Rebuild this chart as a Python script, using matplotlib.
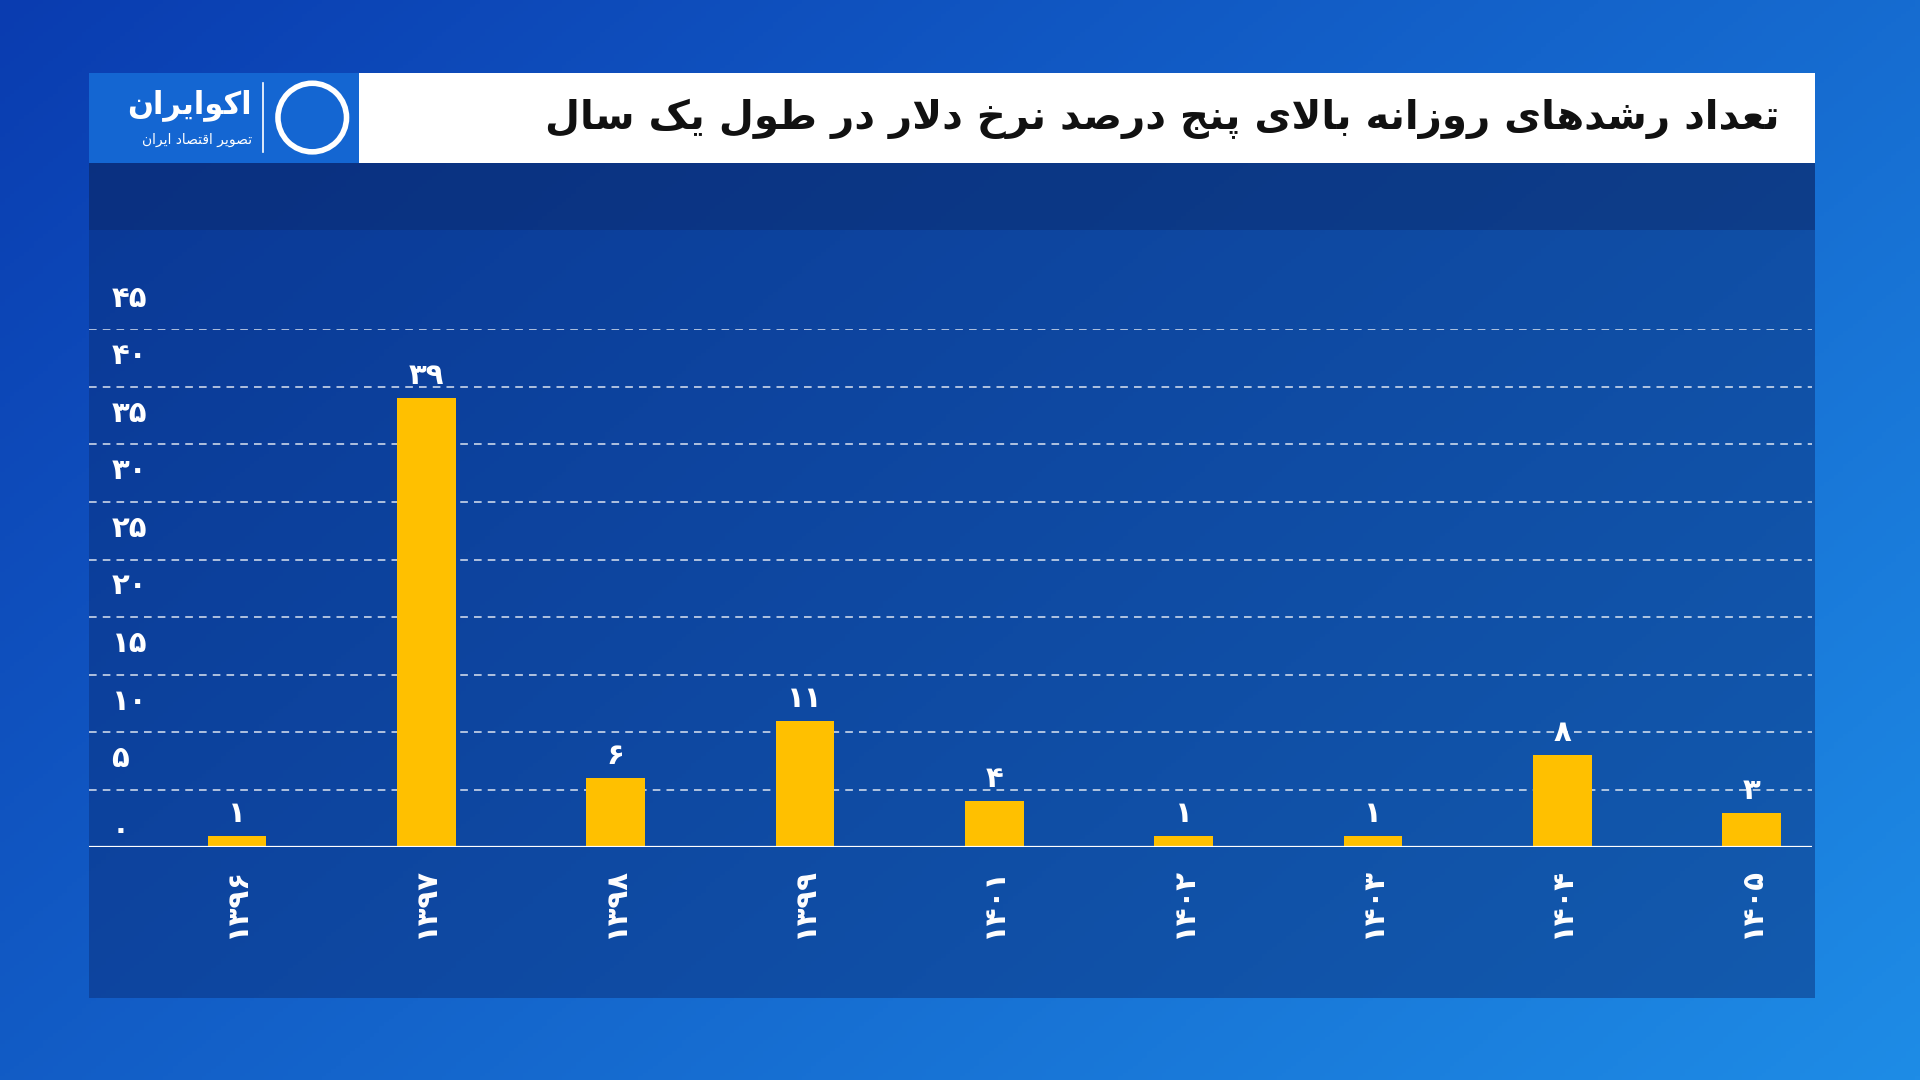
import numpy as np
import matplotlib
matplotlib.use("Agg")
import matplotlib.pyplot as plt
from matplotlib.patches import Rectangle

years = ["۱۳۹۶", "۱۳۹۷", "۱۳۹۸", "۱۳۹۹", "۱۴۰۱", "۱۴۰۲", "۱۴۰۳", "۱۴۰۴", "۱۴۰۵"]
counts = [1, 39, 6, 11, 4, 1, 1, 8, 3]
yticks = [0, 5, 10, 15, 20, 25, 30, 35, 40, 45]
title = "تعداد رشدهای روزانه بالای پنج درصد نرخ دلار در طول یک سال"
logo1 = "اکوایران"
logo2 = "تصویر اقتصاد ایران"

# minimal Arabic/Persian shaper: (isolated, final, initial, medial)
FORMS = {
    'ا': (0xFE8D, 0xFE8E, None, None), 'ب': (0xFE8F, 0xFE90, 0xFE91, 0xFE92),
    'ت': (0xFE95, 0xFE96, 0xFE97, 0xFE98), 'ج': (0xFE9D, 0xFE9E, 0xFE9F, 0xFEA0),
    'خ': (0xFEA5, 0xFEA6, 0xFEA7, 0xFEA8), 'د': (0xFEA9, 0xFEAA, None, None),
    'ر': (0xFEAD, 0xFEAE, None, None), 'ز': (0xFEAF, 0xFEB0, None, None),
    'س': (0xFEB1, 0xFEB2, 0xFEB3, 0xFEB4), 'ش': (0xFEB5, 0xFEB6, 0xFEB7, 0xFEB8),
    'ص': (0xFEB9, 0xFEBA, 0xFEBB, 0xFEBC), 'ط': (0xFEC1, 0xFEC2, 0xFEC3, 0xFEC4),
    'ع': (0xFEC9, 0xFECA, 0xFECB, 0xFECC), 'ق': (0xFED5, 0xFED6, 0xFED7, 0xFED8),
    'ل': (0xFEDD, 0xFEDE, 0xFEDF, 0xFEE0), 'ن': (0xFEE5, 0xFEE6, 0xFEE7, 0xFEE8),
    'ه': (0xFEE9, 0xFEEA, 0xFEEB, 0xFEEC), 'و': (0xFEED, 0xFEEE, None, None),
    'پ': (0xFB56, 0xFB57, 0xFB58, 0xFB59), 'ک': (0xFB8E, 0xFB8F, 0xFB90, 0xFB91),
    'ی': (0xFBFC, 0xFBFD, 0xFBFE, 0xFBFF),
}

def shape(s):
    chars = list(s)
    out = []
    i = 0
    n = len(chars)
    def joins_next(c):
        return c in FORMS and FORMS[c][2] is not None
    while i < n:
        c = chars[i]
        prev = chars[i - 1] if i > 0 else None
        pj = prev is not None and joins_next(prev)
        if c == 'ل' and i + 1 < n and chars[i + 1] == 'ا':
            out.append(chr(0xFEFC if pj else 0xFEFB))
            i += 2
            continue
        if c not in FORMS:
            out.append(c); i += 1; continue
        nxt = chars[i + 1] if i + 1 < n else None
        nj = FORMS[c][2] is not None and nxt in FORMS
        iso, fin, ini, med = FORMS[c]
        if pj and nj: g = med
        elif pj: g = fin
        elif nj: g = ini
        else: g = iso
        out.append(chr(g)); i += 1
    return "".join(reversed(out))

def fa(v):
    return "".join("۰۱۲۳۴۵۶۷۸۹"[int(d)] for d in str(v))

W, H = 1568, 882
fig = plt.figure(figsize=(19.2, 10.8), dpi=100)

# background gradient
bg = fig.add_axes([0, 0, 1, 1]); bg.set_axis_off()
xx, yy = np.meshgrid(np.linspace(0, 1, 400), np.linspace(0, 1, 300))
t = np.clip(0.6 * xx + 0.4 * (1 - yy), 0, 1)
c0 = np.array([0x0a, 0x3c, 0xb0]) / 255
c1 = np.array([0x1e, 0x8c, 0xe6]) / 255
img = c0[None, None, :] * (1 - t[..., None]) + c1[None, None, :] * t[..., None]
bg.imshow(img, extent=[0, W, 0, H], aspect='auto', origin='upper')
bg.set_xlim(0, W); bg.set_ylim(H, 0)
bg.add_patch(Rectangle((73, 133), 1409, 682, color='#0a2f7a', alpha=0.5, lw=0))
bg.add_patch(Rectangle((73, 133), 1409, 55, color='#0a2460', alpha=0.4, lw=0))
bg.add_patch(Rectangle((293, 60), 1189, 73, color='white', lw=0))
bg.add_patch(Rectangle((73, 60), 220, 73, color='#1466d2', lw=0))
bg.text(1453, 97, shape(title), ha='right', va='center', fontsize=29,
        fontweight='bold', color='#111111', family='DejaVu Sans')
bg.text(206, 86, shape(logo1), ha='right', va='center', fontsize=22,
        fontweight='bold', color='white', family='DejaVu Sans')
bg.text(206, 114, shape(logo2), ha='right', va='center', fontsize=10,
        color='white', family='DejaVu Sans')
bg.plot([215, 215], [68, 124], color='white', lw=1.2)
bg.add_patch(plt.Circle((255, 96), 28, fill=False, ec='white', lw=4))

# chart
ax = fig.add_axes([73 / W, 1 - 692 / H, (1480 - 73) / W, (692 - 269) / H])
ax.patch.set_alpha(0)
x = np.arange(len(years))
ax.bar(x, counts, width=0.31, color='#FFC000', zorder=3)
ax.set_xlim(-0.78, 8.32); ax.set_ylim(0, 45)
for v in yticks[1:]:
    ax.axhline(v, color='white', ls=(0, (5, 4)), lw=1.1, alpha=0.85, zorder=1)
ax.axhline(0, color='white', lw=1.6, zorder=4)
for v in yticks:
    ax.annotate(fa(v), (0, v),
                xycoords=('axes fraction', 'data'), xytext=(16, 12),
                textcoords='offset points', ha='left', va='bottom' if v else 'center',
                fontsize=21, fontweight='bold', color='white', family='DejaVu Sans')
for xi, v in zip(x, counts):
    ax.text(xi, v + 0.7, fa(v),
            ha='center', va='bottom', fontsize=21, fontweight='bold', color='white',
            family='DejaVu Sans')
ax.set_xticks(x)
ax.set_xticklabels(years, rotation=90, fontsize=21, fontweight='bold', color='white',
                   family='DejaVu Sans')
ax.tick_params(axis='x', length=0, pad=14)
ax.set_yticks([])
for s in ax.spines.values():
    s.set_visible(False)

fig.savefig("out.png", dpi=100)
